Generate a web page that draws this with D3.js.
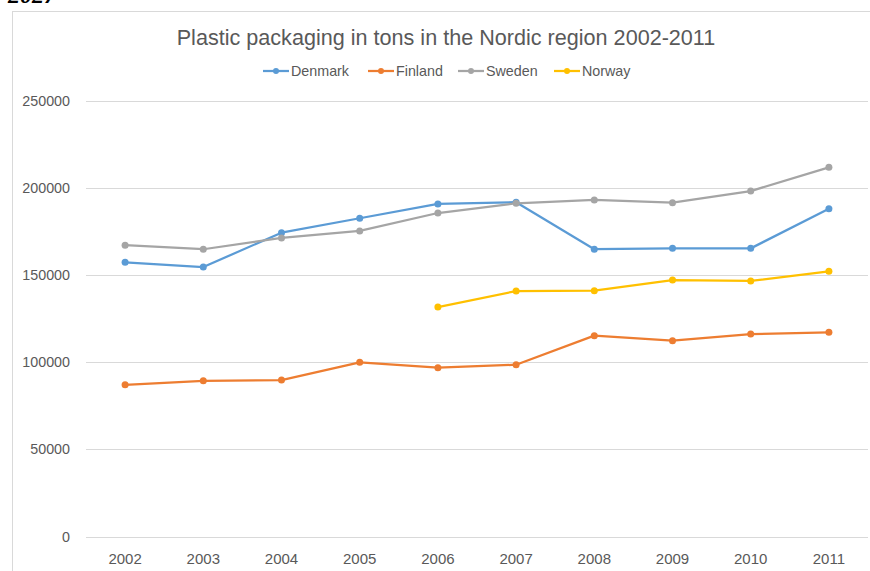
<!DOCTYPE html>
<html><head><meta charset="utf-8">
<script src="https://cdn.jsdelivr.net/npm/d3@7"></script>
<style>body{margin:0;background:#fff}svg{display:block}text{font-family:"Liberation Sans",Arial,sans-serif}</style>
</head><body>
<svg id="c" width="870" height="571"></svg>
<script>
const years = ["2002","2003","2004","2005","2006","2007","2008","2009","2010","2011"];
const denmark = [157400,154700,174400,182700,190900,191900,164900,165400,165400,188200];
const finland = [87100,89400,89800,100000,96900,98600,115300,112400,116200,117200];
const sweden  = [167200,164900,171400,175400,185700,191300,193200,191600,198300,211900];
const norway  = [null,null,null,null,131700,140900,141100,147200,146700,152200];
const seriesNames = ["Denmark","Finland","Sweden","Norway"];
const seriesColors = ["#5B9BD5","#ED7D31","#A5A5A5","#FFC000"];
const yTicks = [0,50000,100000,150000,200000,250000];
const title = "Plastic packaging in tons in the Nordic region 2002-2011";

const svg = d3.select("#c");
// cut-off heading above the chart
svg.append("text").attr("x",8).attr("y",3)
  .style("font-family","'Liberation Serif','DejaVu Serif',serif").attr("font-weight","bold").attr("font-style","italic")
  .attr("font-size",24).attr("fill","#000").text("2027");
// chart border
svg.append("rect").attr("x",12.5).attr("y",11.5).attr("width",900).attr("height",600)
  .attr("fill","none").attr("stroke","#d9d9d9").attr("stroke-width",1);

const x = d3.scaleBand().domain(years).range([86,868]);
const y = d3.scaleLinear().domain([0,250000]).range([536.5,101]);

// gridlines
svg.append("g").selectAll("line").data(yTicks).join("line")
  .attr("x1",86).attr("x2",868).attr("y1",d=>Math.round(y(d))+0.5).attr("y2",d=>Math.round(y(d))+0.5)
  .attr("stroke","#d9d9d9").attr("stroke-width",1);

// y axis labels
const yAxis = d3.axisLeft(y).tickValues(yTicks).tickSize(0).tickPadding(0).tickFormat(d=>String(d));
const ya = svg.append("g").attr("transform","translate(70,0)").call(yAxis);
ya.select(".domain").remove();
ya.selectAll("text").attr("font-size",14.3).attr("fill","#595959").style("font-family","'Liberation Sans',Arial,sans-serif");

// x axis labels
const xAxis = d3.axisBottom(x).tickSize(0).tickPadding(0);
const xa = svg.append("g").attr("transform","translate(0,553)").call(xAxis);
xa.select(".domain").remove();
xa.selectAll("text").attr("font-size",15).attr("fill","#595959").style("font-family","'Liberation Sans',Arial,sans-serif");

// title
svg.append("text").attr("x",446).attr("y",45).attr("text-anchor","middle")
  .attr("font-size",21.6).attr("fill","#595959").text(title);

const data = [denmark,finland,sweden,norway];
const line = d3.line().defined(d=>d.v!=null).x(d=>x(d.k)+x.bandwidth()/2).y(d=>y(d.v));
data.forEach((vals,i)=>{
  const pts = years.map((k,j)=>({k,v:vals[j]}));
  svg.append("path").datum(pts).attr("d",line).attr("fill","none")
    .attr("stroke",seriesColors[i]).attr("stroke-width",2.25).attr("stroke-linejoin","round").attr("stroke-linecap","round");
  svg.append("g").selectAll("circle").data(pts.filter(d=>d.v!=null)).join("circle")
    .attr("cx",d=>x(d.k)+x.bandwidth()/2).attr("cy",d=>y(d.v)).attr("r",3.5).attr("fill",seriesColors[i]);
});

// legend
const legX = [263,368,458,554];
const lg = svg.append("g");
seriesNames.forEach((n,i)=>{
  const g = lg.append("g").attr("transform",`translate(${legX[i]},71)`);
  g.append("line").attr("x1",0).attr("x2",26).attr("y1",0).attr("y2",0).attr("stroke",seriesColors[i]).attr("stroke-width",2.25);
  g.append("circle").attr("cx",13).attr("cy",0).attr("r",3).attr("fill",seriesColors[i]);
  g.append("text").attr("x",28).attr("y",5).attr("font-size",14.3).attr("fill","#595959").text(n);
});
</script>
</body></html>
